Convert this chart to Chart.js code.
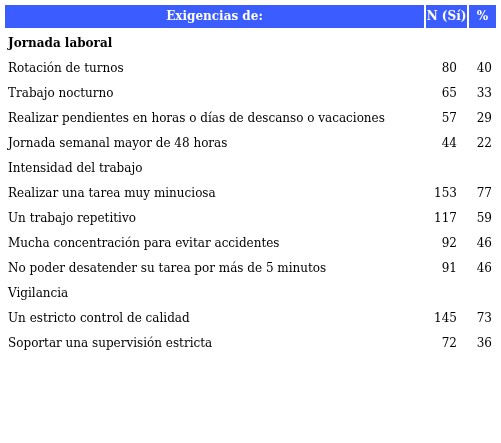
<!DOCTYPE html><html><head><style>html,body{margin:0;padding:0;background:#fff}</style>
<script src="https://cdn.jsdelivr.net/npm/chart.js@4/dist/chart.umd.min.js"></script></head><body>
<div style="width:501px;height:443px"><canvas id="c"></canvas></div>
<script>
const headers = ["Exigencias de:", "N (Sí)", "%"];
const rowLabels = ["Jornada laboral","Rotación de turnos","Trabajo nocturno","Realizar pendientes en horas o días de descanso o vacaciones","Jornada semanal mayor de 48 horas","Intensidad del trabajo","Realizar una tarea muy minuciosa","Un trabajo repetitivo","Mucha concentración para evitar accidentes","No poder desatender su tarea por más de 5 minutos","Vigilancia","Un estricto control de calidad","Soportar una supervisión estricta"];
const nValues = [null,80,65,57,44,null,153,117,92,91,null,145,72];
const pctValues = [null,40,33,29,22,null,77,59,46,46,null,73,36];
const boldRows = [true,false,false,false,false,false,false,false,false,false,false,false,false];

const F = '"DejaVu Serif", serif';
const tablePlugin = {
  id:'table',
  afterDraw(chart){
    const ctx = chart.ctx, y = chart.scales.y;
    ctx.save();
    const cols = [[5,424],[426,467],[469,496]];
    ctx.fillStyle = '#3b5cff';
    cols.forEach(c=>ctx.fillRect(c[0],5,c[1]-c[0],23));
    ctx.fillStyle='#fff'; ctx.font='bold 12px '+F; ctx.textBaseline='middle'; ctx.textAlign='center';
    headers.forEach((h,i)=>ctx.fillText(h,(cols[i][0]+cols[i][1])/2,17));
    ctx.fillStyle='#000';
    rowLabels.forEach((l,i)=>{
      const py = y.getPixelForValue(i);
      ctx.font=(boldRows[i]?'bold ':'')+'12px '+F;
      ctx.textAlign='left'; ctx.fillText(l,8,py,414);
      ctx.font='12px '+F; ctx.textAlign='right';
      if(nValues[i]!=null) ctx.fillText(String(nValues[i]),457,py);
      if(pctValues[i]!=null) ctx.fillText(String(pctValues[i]),492,py);
    });
    ctx.restore();
  }
};
new Chart(document.getElementById('c'),{
  type:'bar',
  data:{labels:rowLabels,datasets:[{data:nValues.map(()=>0),backgroundColor:'rgba(0,0,0,0)'}]},
  options:{indexAxis:'y',responsive:true,maintainAspectRatio:false,animation:false,
    layout:{padding:{top:31.5,bottom:86.5,left:0,right:0}},
    plugins:{legend:{display:false},tooltip:{enabled:false}},
    scales:{y:{display:false},x:{display:false}}},
  plugins:[tablePlugin]
});
</script></body></html>
